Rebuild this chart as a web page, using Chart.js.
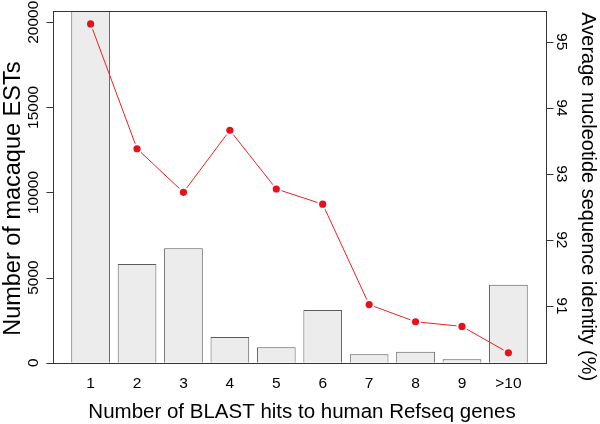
<!DOCTYPE html>
<html>
<head>
<meta charset="utf-8">
<script src="https://cdn.jsdelivr.net/npm/chart.js@4/dist/chart.umd.min.js"></script>
<style>
  html, body { margin: 0; padding: 0; background: #ffffff; }
  #wrap { width: 600px; height: 424px; }
</style>
</head>
<body>
<div id="wrap"><canvas id="c" width="600" height="424"></canvas></div>
<script>
// ---- data ----
const categories = ['1', '2', '3', '4', '5', '6', '7', '8', '9', '>10'];
const estCounts = [20680, 5800, 6720, 1510, 905, 3100, 494, 646, 200, 4580];
const identity = [95.27, 93.38, 92.72, 93.66, 92.77, 92.54, 91.02, 90.76, 90.69, 90.29];
const countTicks = [0, 5000, 10000, 15000, 20000];
const identityTicks = [91, 92, 93, 94, 95];
const identityLimits = [90.14, 95.47];

const xTitle = 'Number of BLAST hits to human Refseq genes';
const yTitle = 'Number of macaque ESTs';
const y2Title = 'Average nucleotide sequence identity (%)';

// ---- styling / layout ----
const FONT = '"Liberation Sans", Arial, Helvetica, sans-serif';
const X_EXTRA_CATS = 0.31;   // R-style axis expansion beyond first/last category slot
const TICK_LEN = 7;

const axesPlugin = {
  id: 'rAxes',
  afterDatasetsDraw(chart) {
    // line segments with gaps around points (R type = "b")
    const meta = chart.getDatasetMeta(1);
    const ctx = chart.ctx;
    const gap = 5.5;
    ctx.save();
    ctx.strokeStyle = '#f02020';
    ctx.lineWidth = 1;
    for (let i = 0; i < meta.data.length - 1; i++) {
      const p = meta.data[i], q = meta.data[i + 1];
      const dx = q.x - p.x, dy = q.y - p.y;
      const len = Math.hypot(dx, dy);
      if (len <= 2 * gap) continue;
      const ux = dx / len, uy = dy / len;
      ctx.beginPath();
      ctx.moveTo(p.x + ux * gap, p.y + uy * gap);
      ctx.lineTo(q.x - ux * gap, q.y - uy * gap);
      ctx.stroke();
    }
    ctx.restore();
  },
  afterDraw(chart) {
    const ctx = chart.ctx;
    const a = chart.chartArea;
    const xs = chart.scales.x, ys = chart.scales.y, y2 = chart.scales.y2;
    const cw = (a.right - a.left) / categories.length;
    const L = a.left - X_EXTRA_CATS * cw;
    const R = a.right + X_EXTRA_CATS * cw;
    const T = a.top, B = a.bottom;

    ctx.save();
    // box
    ctx.strokeStyle = '#333333';
    ctx.lineWidth = 1;
    ctx.strokeRect(Math.round(L) + 0.5, Math.round(T) + 0.5, Math.round(R) - Math.round(L), Math.round(B) - Math.round(T));

    // left axis ticks + labels (rotated, parallel to axis)
    ctx.fillStyle = '#000';
    ctx.font = '15.5px ' + FONT;
    ctx.textAlign = 'center';
    ctx.textBaseline = 'alphabetic';
    countTicks.forEach(v => {
      const y = ys.getPixelForValue(v);
      ctx.beginPath();
      ctx.moveTo(Math.round(L) + 0.5, Math.round(y) + 0.5);
      ctx.lineTo(Math.round(L) + 0.5 - TICK_LEN, Math.round(y) + 0.5);
      ctx.stroke();
      ctx.save();
      ctx.translate(L - 15.5, y);
      ctx.rotate(-Math.PI / 2);
      ctx.fillText(String(v), 0, 0);
      ctx.restore();
    });

    // right axis ticks + labels (rotated clockwise)
    identityTicks.forEach(v => {
      const y = y2.getPixelForValue(v);
      ctx.beginPath();
      ctx.moveTo(Math.round(R) + 0.5, Math.round(y) + 0.5);
      ctx.lineTo(Math.round(R) + 0.5 + TICK_LEN, Math.round(y) + 0.5);
      ctx.stroke();
      ctx.save();
      ctx.translate(R + 11, y);
      ctx.rotate(Math.PI / 2);
      ctx.fillText(String(v), 0, 0);
      ctx.restore();
    });

    // x category labels
    categories.forEach((c, i) => {
      const x = xs.getPixelForValue(i);
      ctx.fillText(c, x, B + 25);
    });

    // titles
    ctx.font = '20.5px ' + FONT;
    ctx.fillText(xTitle, (L + R) / 2 + 2.5, B + 55.6);

    ctx.save();
    ctx.font = '23.5px ' + FONT;
    ctx.translate(20, (T + B) / 2 + 12);
    ctx.rotate(-Math.PI / 2);
    ctx.fillText(yTitle, 0, 0);
    ctx.restore();

    ctx.save();
    ctx.font = '20px ' + FONT;
    ctx.translate(582, (T + B) / 2 + 10);
    ctx.rotate(Math.PI / 2);
    ctx.fillText(y2Title, 0, 0);
    ctx.restore();

    ctx.restore();
  }
};

new Chart(document.getElementById('c'), {
  type: 'bar',
  data: {
    labels: categories,
    datasets: [
      {
        type: 'bar',
        data: estCounts,
        yAxisID: 'y',
        backgroundColor: '#ececec',
        borderColor: '#5a5a5a',
        borderWidth: 1,
        borderSkipped: 'start',
        barPercentage: 1 / 1.2,
        categoryPercentage: 1,
        order: 2
      },
      {
        type: 'line',
        data: identity,
        yAxisID: 'y2',
        showLine: false,
        pointRadius: 3.6,
        pointBorderWidth: 0,
        pointBackgroundColor: '#e8101c',
        pointBorderColor: '#e8101c',
        order: 1
      }
    ]
  },
  options: {
    responsive: false,
    animation: false,
    devicePixelRatio: 1,
    layout: { padding: { left: 67.4, right: 68.4, top: 10.7, bottom: 61.3 } },
    plugins: { legend: { display: false }, tooltip: { enabled: false } },
    scales: {
      x: { type: 'category', offset: true, display: false },
      y: { type: 'linear', display: false, min: 0, max: Math.max(...estCounts) },
      y2: { type: 'linear', display: false, min: identityLimits[0], max: identityLimits[1] }
    }
  },
  plugins: [axesPlugin]
});
</script>
</body>
</html>
